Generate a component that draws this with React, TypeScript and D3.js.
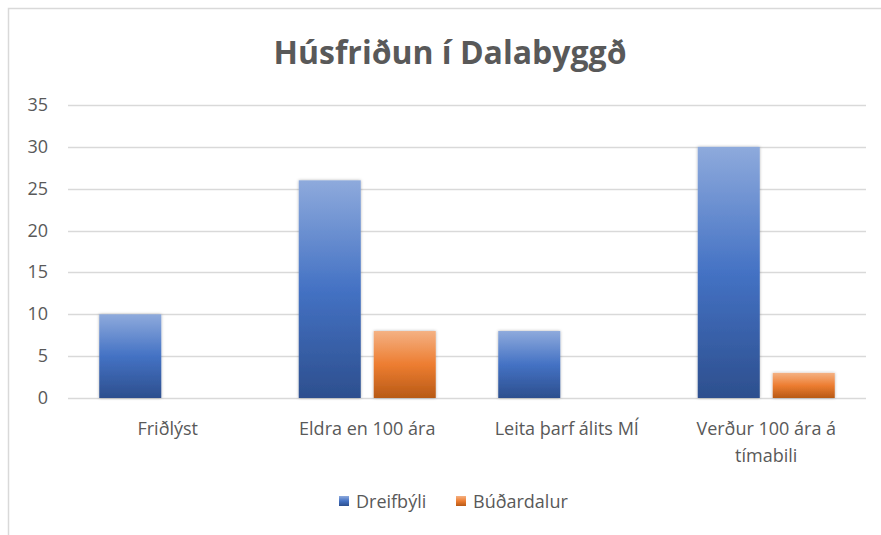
import { useEffect, useRef } from "react"
import * as d3 from "d3"

const categories = ["Friðlýst", "Eldra en 100 ára", "Leita þarf álits MÍ", "Verður 100 ára á tímabili"]
const seriesNames = ["Dreifbýli", "Búðardalur"]
const dreifbyli = [10, 26, 8, 30]
const budardalur = [0, 8, 0, 3]
const yTicks = [0, 5, 10, 15, 20, 25, 30, 35]

const W = 881
const H = 535
const FONT = "'Open Sans', 'Noto Sans', sans-serif"
const TEXT = "#595959"
const FS = 18

// gradient stops per series: top, middle, bottom
const GRADS: string[][] = [
  ["#8eaadc", "#4472c4", "#2d4f8e"],
  ["#f4b183", "#ed7d31", "#b85a16"],
]

// wrap label into lines when it is too wide for the band
function wrapLines(label: string): string[] {
  if (label.length <= 20) return [label]
  const words = label.split(" ")
  const lines: string[] = []
  let cur = ""
  for (const w of words) {
    const next = cur ? cur + " " + w : w
    if (next.length > 17 && cur) {
      lines.push(cur)
      cur = w
    } else cur = next
  }
  if (cur) lines.push(cur)
  return lines
}

export default function App() {
  const svgRef = useRef<SVGSVGElement>(null)

  useEffect(() => {
    if (!svgRef.current) return
    const svg = d3.select(svgRef.current)
    svg.selectAll("*").remove()

    const defs = svg.append("defs")
    GRADS.forEach((g, i) => {
      const lg = defs.append("linearGradient").attr("id", `grad${i}`)
        .attr("x1", 0).attr("y1", 0).attr("x2", 0).attr("y2", 1)
      lg.append("stop").attr("offset", "0%").attr("stop-color", g[0])
      lg.append("stop").attr("offset", "50%").attr("stop-color", g[1])
      lg.append("stop").attr("offset", "100%").attr("stop-color", g[2])
    })
    defs.append("filter").attr("id", "shadow")
      .attr("x", "-20%").attr("y", "-10%").attr("width", "140%").attr("height", "120%")
      .append("feDropShadow")
      .attr("dx", 0).attr("dy", 0).attr("stdDeviation", 1.5)
      .attr("flood-color", "#000").attr("flood-opacity", 0.3)

    // chart frame
    svg.append("rect").attr("width", W).attr("height", H).attr("fill", "#fff")
    svg.append("path").attr("d", `M8.5,${H + 5} V8.5 H${W + 5}`)
      .attr("fill", "none").attr("stroke", "#d9d9d9").attr("stroke-width", 1.5)

    const left = 68, right = 866, top = 105, bottom = 398
    const x = d3.scaleBand<string>().domain(categories).range([left, right])
    const x1 = d3.scaleBand<string>().domain(seriesNames)
      .range([x.bandwidth() / 2 - 68.5, x.bandwidth() / 2 + 68.5]).paddingInner(0.173)
    const y = d3.scaleLinear().domain([0, 35]).range([bottom, top])

    // title
    svg.append("text").attr("x", 450).attr("y", 64).attr("text-anchor", "middle")
      .attr("font-family", FONT).attr("font-size", 32).attr("font-weight", 700)
      .attr("fill", TEXT).text("Húsfriðun í Dalabyggð")

    // gridlines
    svg.append("g").selectAll("line").data(yTicks).join("line")
      .attr("x1", left).attr("x2", right)
      .attr("y1", (d) => Math.round(y(d)) + 0.5).attr("y2", (d) => Math.round(y(d)) + 0.5)
      .attr("stroke", "#d9d9d9").attr("stroke-width", 1.3)

    // y labels
    svg.append("g").selectAll("text").data(yTicks).join("text")
      .attr("x", 48).attr("y", (d) => y(d) + 6).attr("text-anchor", "end")
      .attr("font-family", FONT).attr("font-size", FS).attr("fill", TEXT)
      .text((d) => d)

    // bars
    const allSeries = [dreifbyli, budardalur]
    allSeries.forEach((vals, si) => {
      svg.append("g").selectAll("rect").data(vals).join("rect")
        .attr("x", (_, i) => (x(categories[i]) ?? 0) + (x1(seriesNames[si]) ?? 0))
        .attr("width", x1.bandwidth())
        .attr("y", (d) => y(d))
        .attr("height", (d) => bottom - y(d))
        .attr("fill", `url(#grad${si})`)
        .attr("filter", (d) => (d > 0 ? "url(#shadow)" : null))
    })

    // category labels
    const cat = svg.append("g")
    categories.forEach((c) => {
      const lines = wrapLines(c)
      const t = cat.append("text").attr("text-anchor", "middle")
        .attr("font-family", FONT).attr("font-size", FS).attr("fill", TEXT)
      lines.forEach((ln, li) => {
        t.append("tspan").attr("x", (x(c) ?? 0) + x.bandwidth() / 2)
          .attr("y", 435 + li * 27).text(ln)
      })
    })

    // legend
    const legendX = [339, 456]
    seriesNames.forEach((s, si) => {
      svg.append("rect").attr("x", legendX[si]).attr("y", 496).attr("width", 10).attr("height", 10)
        .attr("fill", `url(#grad${si})`)
      svg.append("text").attr("x", legendX[si] + 17).attr("y", 508)
        .attr("font-family", FONT).attr("font-size", FS).attr("fill", TEXT).text(s)
    })
  }, [])

  return (
    <div style={{ position: "absolute", left: 0, top: 0 }}>
      <svg ref={svgRef} width={W} height={H} style={{ display: "block" }} />
    </div>
  )
}
